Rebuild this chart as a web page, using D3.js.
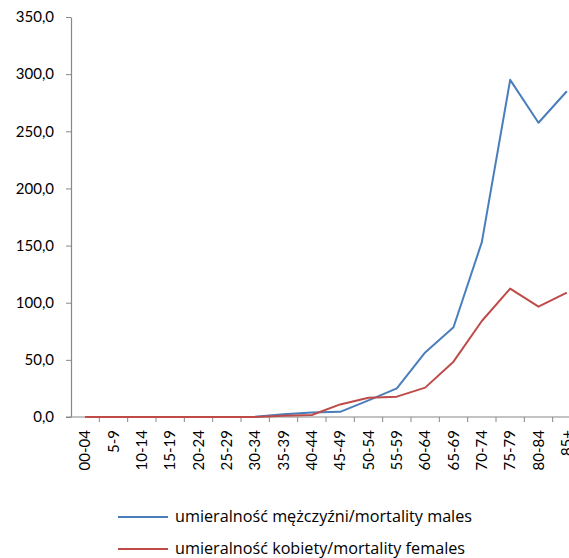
<!DOCTYPE html>
<html>
<head>
<meta charset="utf-8">
<script src="https://cdn.jsdelivr.net/npm/d3@7"></script>
<style>
  html, body { margin: 0; padding: 0; background: #fff; }
  svg { display: block; }
  text { font-family: Lato, "Open Sans", sans-serif; fill: #000; }
</style>
</head>
<body>
<svg id="chart" width="569" height="558"></svg>
<script>
const categories = ["00-04","5-9","10-14","15-19","20-24","25-29","30-34","35-39","40-44","45-49","50-54","55-59","60-64","65-69","70-74","75-79","80-84","85+"];
const malesValues   = [0,0,0,0,0,0,0.3,2.3,4.0,4.5,14.5,25.0,56.5,78.5,153.0,295.0,257.5,285.0];
const femalesValues = [0,0,0,0,0,0,0,1.0,1.7,11.0,16.8,17.8,25.7,48.4,84.0,112.3,96.5,108.8];
const yTicks = [0,50,100,150,200,250,300,350];
const seriesNames = ["umieralność mężczyźni/mortality males","umieralność kobiety/mortality females"];
const seriesColors = ["#4a7ebb","#be4b48"];

(function () {
const svg = d3.select("#chart");
const mLeft = 71, mRight = 581, mTop = 17, mBottom = 417;

const x = d3.scaleBand().domain(categories).range([mLeft, mRight]).paddingInner(0).paddingOuter(0);
const y = d3.scaleLinear().domain([0, 350]).range([mBottom, mTop]);

// Y axis
const yAxis = d3.axisLeft(y).tickValues(yTicks).tickSize(5).tickSizeOuter(0)
  .tickFormat(d => d3.format(".1f")(d).replace(".", ","));
const gy = svg.append("g").attr("transform", `translate(${mLeft},0)`).call(yAxis);
gy.select(".domain").attr("stroke", "#888").attr("stroke-width", 1.2);
gy.selectAll(".tick line").attr("stroke", "#888");
gy.selectAll(".tick text").attr("x", -17).style("font-size", "15px").attr("fill", "#000");

// X axis
const gx = svg.append("g").attr("transform", `translate(0,${mBottom})`);
gx.append("line").attr("x1", mLeft - 5).attr("x2", mRight).attr("y1", 0).attr("y2", 0)
  .attr("stroke", "#888").attr("stroke-width", 1.2);
const tickPositions = categories.map(c => x(c) + x.bandwidth());
gx.selectAll("line.tk").data(tickPositions).enter().append("line").attr("class", "tk")
  .attr("x1", d => d).attr("x2", d => d).attr("y1", 0).attr("y2", 5).attr("stroke", "#888");
gx.selectAll("text.lbl").data(categories).enter().append("text").attr("class", "lbl")
  .attr("transform", d => `translate(${x(d) + x.bandwidth() / 2 + 5},13) rotate(-90)`)
  .attr("text-anchor", "end")
  .style("font-size", "15px")
  .text(d => d);

// Lines
const line = d3.line().x((d, i) => x(categories[i]) + x.bandwidth() / 2).y(d => y(d));
[malesValues, femalesValues].forEach((vals, k) => {
  svg.append("path").datum(vals).attr("d", line).attr("fill", "none")
    .attr("stroke", seriesColors[k]).attr("stroke-width", 2).attr("stroke-linejoin", "round");
});

// Legend
const legend = svg.append("g");
seriesNames.forEach((name, k) => {
  const ly = 517 + k * 32;
  legend.append("line").attr("x1", 118).attr("x2", 168).attr("y1", ly).attr("y2", ly)
    .attr("stroke", seriesColors[k]).attr("stroke-width", 2);
  legend.append("text").attr("x", 175).attr("y", ly + 5)
    .style("font-family", "'Open Sans', sans-serif").style("font-size", "16.2px").text(name);
});
})();
</script>
</body>
</html>
